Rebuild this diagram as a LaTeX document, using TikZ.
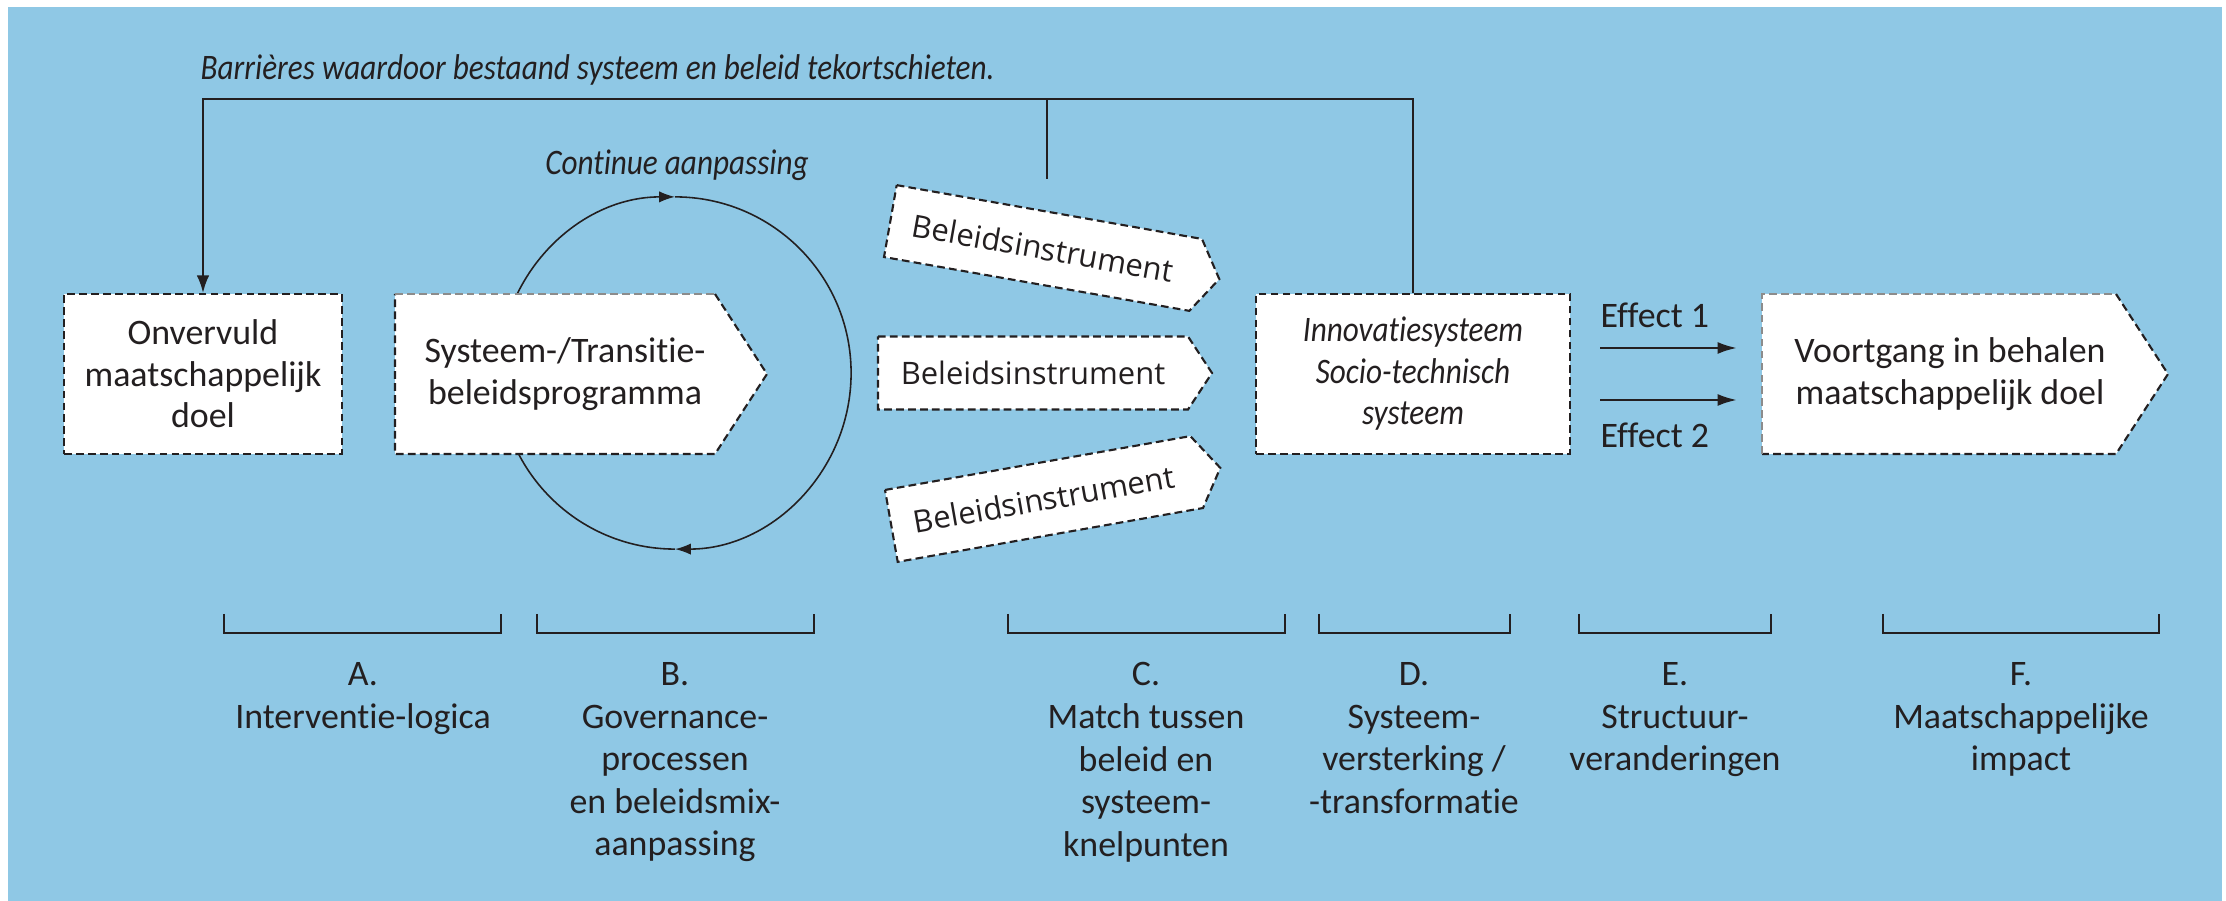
\documentclass[tikz,border=0pt]{standalone}
\usepackage{fontspec}
\setmainfont{Carlito}[Ligatures=NoCommon, ItalicFeatures={FakeStretch=0.87}]
\newfontfamily\osans{Open Sans}
\usetikzlibrary{arrows.meta,calc}
\definecolor{bg}{RGB}{143,200,229}
\definecolor{ink}{RGB}{35,31,32}
\begin{document}
\begin{tikzpicture}[x=0.01cm,y=0.01cm,
  lbl/.style={font=\fontsize{10.2}{12.1}\selectfont, align=center, text=ink, inner sep=0pt},
  boxtxt/.style={font=\fontsize{10.2}{11.8}\selectfont, align=center, text=ink, inner sep=0pt},
  inst/.style={font=\osans\fontsize{8.8}{10}\selectfont, text=ink, inner sep=0pt},
  dsh/.style={draw=ink, line width=0.6pt, dash pattern=on 2.2pt off 1.2pt},
  dshl/.style={draw=black!45, line width=0.6pt, dash pattern=on 2.2pt off 1.2pt},
  conn/.style={draw=ink, line width=0.55pt},
  circ/.style={draw=ink, line width=0.45pt},
  tip/.style={-{Latex[length=5pt,width=3.6pt]}},
  brk/.style={draw=ink, line width=0.8pt}]
\path[use as bounding box] (0,0) rectangle (2226,-901);
\fill[white] (0,0) rectangle (2226,-901);
\fill[bg] (8,-7) rectangle (2222,-901);

% title and feedback loop text
\node[anchor=base west, font=\fontsize{10.2}{12}\selectfont\itshape, text=ink, inner sep=0pt] (title) at (200,-80) {Barrières waardoor bestaand systeem en beleid tekortschieten.};
\node[font=\fontsize{10.2}{12}\selectfont\itshape, text=ink, inner sep=0pt] (cont) at (677,-165) {Continue aanpassing};

% adaptation cycle
\coordinate (cc) at (675,-373);
\draw[circ,-{Latex[length=4.5pt,width=3.2pt]}] ($(cc)+(180:1.76cm)$) arc[start angle=180,end angle=90,radius=1.76cm];
\draw[circ,-{Latex[length=4.5pt,width=3.2pt]}] ($(cc)+(90:1.76cm)$) arc[start angle=90,end angle=-90,radius=1.76cm];
\draw[circ] ($(cc)+(-90:1.76cm)$) arc[start angle=-90,end angle=-180,radius=1.76cm];

% A box
\node[dsh, fill=white, minimum width=2.78cm, minimum height=1.6cm, boxtxt] (goal) at (203,-374) {Onvervuld\\maatschappelijk\\doel};

% B box (arrow shape)
\fill[white] (395,-294) -- (715,-294) -- (767,-374) -- (715,-454) -- (395,-454) -- cycle;
\draw[dsh] (715,-294) -- (767,-374) -- (715,-454) -- (395,-454) -- (395,-294);
\draw[dshl] (395,-294) -- (715,-294);
\node[boxtxt] (prog) at (565,-374) {Systeem-/Transitie-\\beleidsprogramma};

% policy instruments
\begin{scope}[shift={(1043,-248)}, rotate=-10]
\filldraw[fill=white, dsh] (-155,36.5) -- (155,36.5) -- (179,0) -- (155,-36.5) -- (-155,-36.5) -- cycle;
\node[inst, rotate=-10] (b1) at (0,0) {Beleidsinstrument};
\end{scope}
\begin{scope}[shift={(1033,-373)}]
\filldraw[fill=white, dsh] (-155,36.5) -- (155,36.5) -- (179,0) -- (155,-36.5) -- (-155,-36.5) -- cycle;
\node[inst] (b2) at (0,0) {Beleidsinstrument};
\end{scope}
\begin{scope}[shift={(1044,-499)}, rotate=10]
\filldraw[fill=white, dsh] (-155,36.5) -- (155,36.5) -- (179,0) -- (155,-36.5) -- (-155,-36.5) -- cycle;
\node[inst, rotate=10] (b3) at (0,0) {Beleidsinstrument};
\end{scope}

% D box
\node[dsh, fill=white, minimum width=3.135cm, minimum height=1.6cm, boxtxt, font=\fontsize{10.2}{11.8}\selectfont\itshape] (sys) at (1413,-374) {Innovatiesysteem\\Socio-technisch\\systeem};

% F box (arrow shape)
\fill[white] (1762,-294) -- (2116,-294) -- (2168,-374) -- (2116,-454) -- (1762,-454) -- cycle;
\draw[dsh] (2116,-294) -- (2168,-374) -- (2116,-454) -- (1762,-454);
\draw[dshl] (1762,-454) -- (1762,-294) -- (2116,-294);
\node[boxtxt] (impact) at (1950,-374) {Voortgang in behalen\\maatschappelijk doel};

% feedback line
\draw[conn, tip] (sys.north) -- ++(0,194) -| (goal.north);
\coordinate (spa) at (1047,-100);
\coordinate (spb) at (1047,-179);
\draw[conn] (spa) -- (spb);

% effects
\coordinate (e1s) at (1600,-348); \coordinate (e1e) at (1737,-348);
\coordinate (e2s) at (1600,-400); \coordinate (e2e) at (1737,-400);
\draw[conn, line width=0.7pt, -{Latex[length=5.5pt,width=3.4pt]}] (e1s) -- (e1e);
\draw[conn, line width=0.7pt, -{Latex[length=5.5pt,width=3.4pt]}] (e2s) -- (e2e);
\node[lbl, anchor=west] (ef1) at (1600,-315) {Effect 1};
\node[lbl, anchor=west] (ef2) at (1600,-435) {Effect 2};

% brackets
\foreach \a/\b in {224/501, 537/814, 1008/1285, 1319/1510, 1579/1771, 1883/2159}{
  \draw[brk] (\a,-614) -- (\a,-633) -- (\b,-633) -- (\b,-614);
}

% bottom labels
\node[lbl, anchor=north] (la) at (363,-662) {A.\\Interventie-logica};
\node[lbl, anchor=north] (lb) at (675,-662) {B.\\Governance-\\processen\\en beleidsmix-\\aanpassing};
\node[lbl, anchor=north] (lc) at (1146,-662) {C.\\Match tussen\\beleid en\\systeem-\\knelpunten};
\node[lbl, anchor=north] (ld) at (1414,-662) {D.\\Systeem-\\versterking /\\-transformatie};
\node[lbl, anchor=north] (le) at (1675,-662) {E.\\Structuur-\\veranderingen};
\node[lbl, anchor=north] (lf) at (2021,-662) {F.\\Maatschappelijke\\impact};
\end{tikzpicture}
\end{document}
